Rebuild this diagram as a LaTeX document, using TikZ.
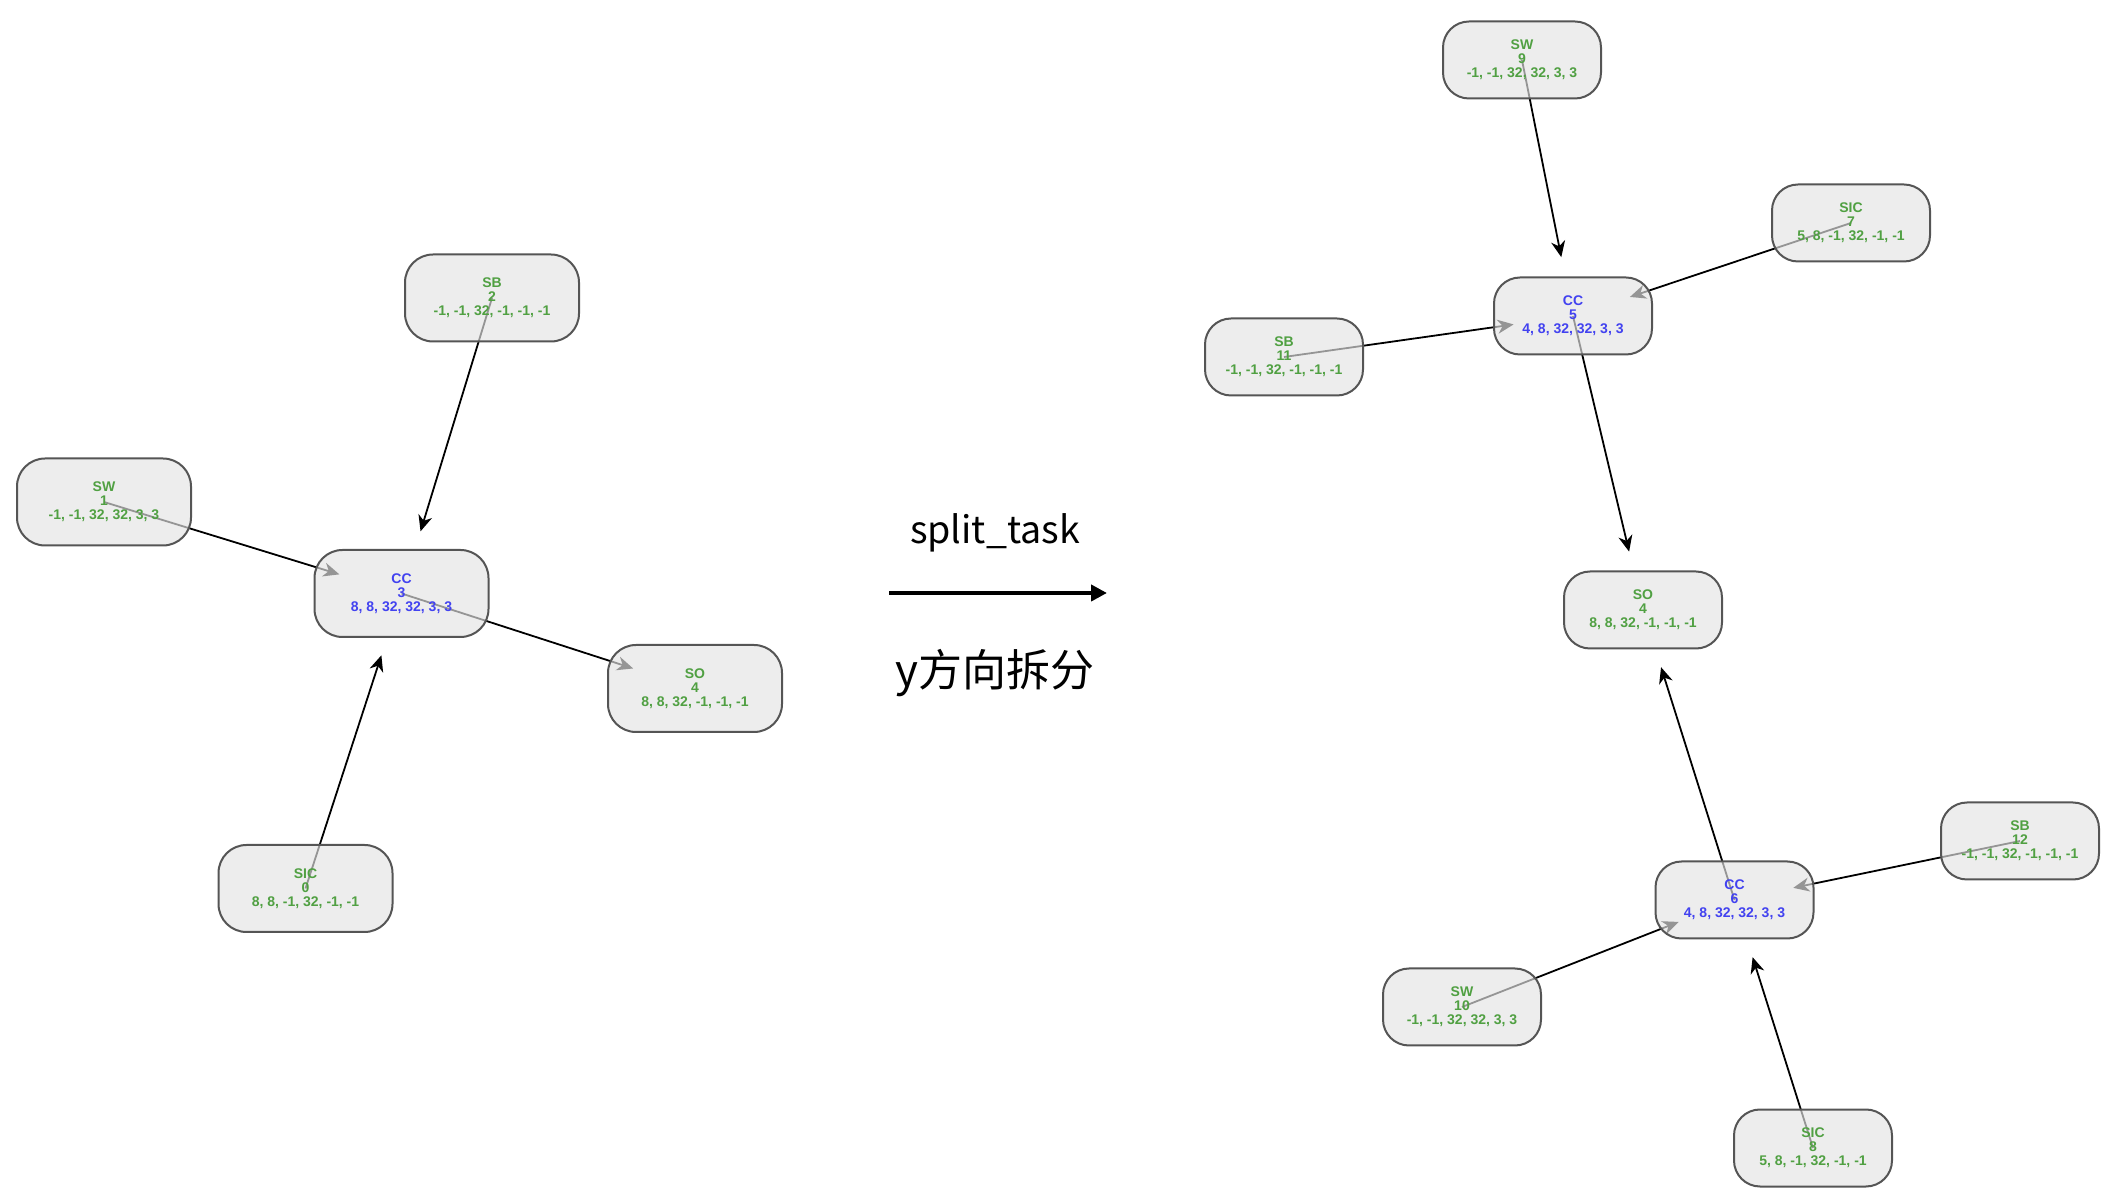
\documentclass[tikz,border=0pt]{standalone}
\usepackage{fontspec}
\usetikzlibrary{arrows.meta,backgrounds}
\newfontfamily\nodefont{Liberation Sans}
\newfontfamily\cjkfont{Noto Sans CJK SC}

\definecolor{boxfill}{RGB}{227,227,227}
\definecolor{boxline}{RGB}{85,85,85}
\definecolor{labgreen}{RGB}{80,160,66}
\definecolor{labblue}{RGB}{66,66,240}

\tikzset{
  box/.style={draw=boxline, line width=1pt, fill=boxfill, fill opacity=0.66,
    text opacity=1, align=center, inner sep=0pt,
    font=\nodefont\bfseries\fontsize{7}{7}\selectfont},
  lbox/.style={box, rounded corners=14pt, minimum width=87pt, minimum height=43.5pt},
  rbox/.style={box, rounded corners=13pt, minimum width=79pt, minimum height=38.5pt},
  gtext/.style={text=labgreen},
  btext/.style={text=labblue},
  edge/.style={draw=black, line width=0.9pt, -{Stealth[length=8pt,width=7pt,inset=2.5pt]}},
  ledge/.style={edge, shorten >=32.5pt},
  redge/.style={edge, shorten >=30pt},
  bigarrow/.style={line width=2pt, -{Triangle[length=8pt,width=8pt]}},
  caption/.style={text=black, inner sep=0pt}
}

\begin{document}
\begin{tikzpicture}[x=0.5pt, y=-0.5pt]
  \useasboundingbox (0,0) rectangle (2122,1202);

  % graph before the split
  \node[lbox, gtext] (sic0) at (305.5,888.5) {SIC\\0\\8, 8, -1, 32, -1, -1};
  \node[lbox, gtext] (sw1)  at (104,502)     {SW\\1\\-1, -1, 32, 32, 3, 3};
  \node[lbox, gtext] (sb2)  at (492,298)     {SB\\2\\-1, -1, 32, -1, -1, -1};
  \node[lbox, btext] (cc3)  at (401.5,593.5) {CC\\3\\8, 8, 32, 32, 3, 3};
  \node[lbox, gtext] (so4)  at (695,688.5)   {SO\\4\\8, 8, 32, -1, -1, -1};

  % graph after the split
  \node[rbox, gtext] (sw9)  at (1522,60)     {SW\\9\\-1, -1, 32, 32, 3, 3};
  \node[rbox, gtext] (sic7) at (1851,223)    {SIC\\7\\5, 8, -1, 32, -1, -1};
  \node[rbox, btext] (cc5)  at (1573,316)    {CC\\5\\4, 8, 32, 32, 3, 3};
  \node[rbox, gtext] (sb11) at (1284,357)    {SB\\11\\-1, -1, 32, -1, -1, -1};
  \node[rbox, gtext] (so4r) at (1643,610)    {SO\\4\\8, 8, 32, -1, -1, -1};
  \node[rbox, gtext] (sb12) at (2020,841)    {SB\\12\\-1, -1, 32, -1, -1, -1};
  \node[rbox, btext] (cc6)  at (1734.5,900)  {CC\\6\\4, 8, 32, 32, 3, 3};
  \node[rbox, gtext] (sw10) at (1462,1007)   {SW\\10\\-1, -1, 32, 32, 3, 3};
  \node[rbox, gtext] (sic8) at (1813,1148)   {SIC\\8\\5, 8, -1, 32, -1, -1};

  % transformation arrow with its captions
  \coordinate (arrs) at (889,593);
  \coordinate (arre) at (1107,593);
  \draw[bigarrow] (arrs) -- (arre);
  \node[caption, font=\cjkfont\fontsize{18.8}{22}\selectfont] (optname) at (995,533) {split\_task};
  \node[caption, font=\cjkfont\fontsize{22}{26}\selectfont] (optdesc) at (995,673) {y方向拆分};

  % connectors run under the translucent boxes
  \begin{pgfonlayer}{background}
    \draw[ledge] (sb2.center)  -- (cc3.center);
    \draw[ledge] (sw1.center)  -- (cc3.center);
    \draw[ledge] (sic0.center) -- (cc3.center);
    \draw[ledge] (cc3.center)  -- (so4.center);

    \draw[redge] (sw9.center)  -- (cc5.center);
    \draw[redge] (sic7.center) -- (cc5.center);
    \draw[redge] (sb11.center) -- (cc5.center);
    \draw[redge] (cc5.center)  -- (so4r.center);
    \draw[redge] (cc6.center)  -- (so4r.center);
    \draw[redge] (sb12.center) -- (cc6.center);
    \draw[redge] (sw10.center) -- (cc6.center);
    \draw[redge] (sic8.center) -- (cc6.center);
  \end{pgfonlayer}
\end{tikzpicture}
\end{document}
